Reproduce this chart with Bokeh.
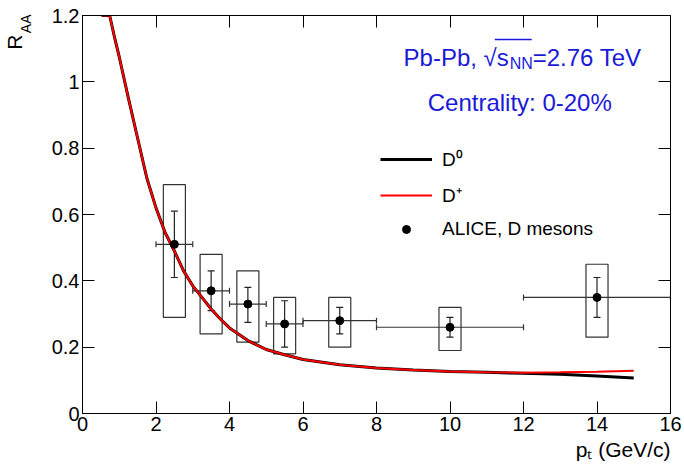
from bokeh.plotting import figure
from bokeh.models import (Range1d, LinearAxis, Label, Legend, LegendItem, Whisker,
                          TeeHead, ColumnDataSource, FixedTicker, Title,
                          CustomLabelingPolicy)
from bokeh.embed import file_html
from bokeh.resources import INLINE

# ---------------- data ----------------
curve_pt = [0.52, 0.74, 0.88, 1.0, 1.25, 1.5, 1.75, 2.0, 2.25, 2.5, 2.75, 3.0, 3.25, 3.5,
            3.75, 4.0, 4.5, 5.0, 5.5, 6.0, 7.0, 8.0, 9.0, 10.0, 11.0, 12.0, 13.0, 14.0, 15.0]
raa_d0 = [1.2, 1.2, 1.13, 1.075, 0.95, 0.83, 0.71, 0.62, 0.545, 0.49, 0.43, 0.385, 0.35, 0.315,
          0.285, 0.258, 0.22, 0.193, 0.177, 0.163, 0.147, 0.137, 0.131, 0.127, 0.124, 0.121,
          0.118, 0.113, 0.107]
raa_dplus = [1.2, 1.2, 1.13, 1.075, 0.95, 0.83, 0.71, 0.62, 0.545, 0.49, 0.43, 0.385, 0.35, 0.315,
             0.285, 0.258, 0.22, 0.193, 0.177, 0.163, 0.147, 0.137, 0.131, 0.127, 0.124, 0.123,
             0.124, 0.126, 0.129]

alice_pt = [2.5, 3.5, 4.5, 5.5, 7.0, 10.0, 14.0]
alice_pt_lo = [2.0, 3.0, 4.0, 5.0, 6.0, 8.0, 12.0]
alice_pt_hi = [3.0, 4.0, 5.0, 6.0, 8.0, 12.0, 16.0]
alice_raa = [0.51, 0.37, 0.33, 0.27, 0.28, 0.26, 0.35]
alice_stat_lo = [0.41, 0.31, 0.275, 0.20, 0.24, 0.23, 0.29]
alice_stat_hi = [0.61, 0.43, 0.38, 0.34, 0.32, 0.29, 0.41]
alice_sys_lo = [0.29, 0.24, 0.215, 0.18, 0.20, 0.19, 0.23]
alice_sys_hi = [0.69, 0.48, 0.43, 0.35, 0.35, 0.32, 0.45]

x_ticks = [0, 2, 4, 6, 8, 10, 12, 14, 16]
y_ticks = [0, 0.2, 0.4, 0.6, 0.8, 1.0, 1.2]
y_tick_labels = {0: "0", 0.2: "0.2", 0.4: "0.4", 0.6: "0.6", 0.8: "0.8", 1.0: "1", 1.2: "1.2"}

# ---------------- layout ----------------
W, H = 684, 469
FL, FR, FT, FB = 81, 670, 15, 413   # frame edges in figure pixels
XMIN, XMAX, YMIN, YMAX = 0, 16, 0, 1.2
FONT = "Liberation Sans"
BLUE = "#1a1ad8"

p = figure(width=W, height=H, output_backend="svg", toolbar_location=None,
           x_range=Range1d(XMIN, XMAX), y_range=Range1d(YMIN, YMAX),
           min_border_left=FL, min_border_right=W - FR, min_border_top=FT,
           min_border_bottom=H - FB, x_axis_location=None, y_axis_location=None)
p.grid.visible = False
p.outline_line_color = "black"
p.outline_line_width = 1
p.background_fill_color = "white"
p.border_fill_color = "white"


def px2x(px):
    return XMIN + (px - FL) * (XMAX - XMIN) / (FR - FL)


def py2y(py):
    return YMIN + (FB - py) * (YMAX - YMIN) / (FB - FT)


def make_axis(ticks, show_labels, overrides=None):
    ax = LinearAxis(ticker=FixedTicker(ticks=ticks, num_minor_ticks=4))
    ax.axis_line_color = "black"
    ax.major_tick_in = 12
    ax.major_tick_out = 0
    ax.minor_tick_in = 6
    ax.minor_tick_out = 0
    ax.major_tick_line_color = "black"
    ax.minor_tick_line_color = "black"
    ax.major_label_text_font = FONT
    ax.major_label_text_font_size = "20px"
    ax.major_label_text_color = "black"
    ax.major_label_standoff = 3
    if overrides:
        ax.major_label_overrides = overrides
    if not show_labels:
        ax.major_label_policy = CustomLabelingPolicy(code="return []")
        ax.major_label_text_font_size = "0px"
        ax.major_label_standoff = 0
    return ax


def title_axis(text, size, pos, standoff):
    """A tick-less axis whose single (rotated) tick label is the title text at pos."""
    ax = LinearAxis(ticker=FixedTicker(ticks=[pos], num_minor_ticks=0))
    ax.major_label_overrides = {pos: text}
    ax.axis_line_alpha = 0
    ax.major_tick_in = 0
    ax.major_tick_out = 0
    ax.minor_tick_in = 0
    ax.minor_tick_out = 0
    ax.major_label_orientation = "vertical"
    ax.major_label_text_font = FONT
    ax.major_label_text_font_size = size
    ax.major_label_text_color = "black"
    ax.major_label_standoff = standoff
    return ax


xb = make_axis(x_ticks, True)
yl = make_axis(y_ticks, True, y_tick_labels)
xt = make_axis(x_ticks, False)
yr = make_axis(y_ticks, False)
p.add_layout(xb, "below")
p.add_layout(yl, "left")
p.add_layout(xt, "above")
p.add_layout(yr, "right")

# y title R_AA: subscript (closer to the axis) and main letter
p.add_layout(title_axis("AA", "14px", 1.175, 14), "left")
p.add_layout(title_axis("R", "21px", 1.12, -11), "left")

# x title
xtitle = Title(text="pₜ (GeV/c)", align="right", text_font=FONT, text_font_size="21px",
               text_font_style="normal", text_color="black", standoff=5)
p.add_layout(xtitle, "below")

# ---------------- ALICE data ----------------
src = ColumnDataSource(dict(
    pt=alice_pt, lo=alice_pt_lo, hi=alice_pt_hi, raa=alice_raa,
    slo=alice_stat_lo, shi=alice_stat_hi, ylo=alice_sys_lo, yhi=alice_sys_hi))

BOXW = 0.6
p.quad(left=[x - BOXW / 2 for x in alice_pt], right=[x + BOXW / 2 for x in alice_pt],
       bottom=alice_sys_lo, top=alice_sys_hi, fill_alpha=0, line_color="#333333",
       line_width=1.2)

wy = Whisker(base="pt", lower="slo", upper="shi", source=src, dimension="height",
             line_color="#222222", line_width=1.2,
             upper_head=TeeHead(size=7, line_color="#222222", line_width=1.2),
             lower_head=TeeHead(size=7, line_color="#222222", line_width=1.2))
wx = Whisker(base="raa", lower="lo", upper="hi", source=src, dimension="width",
             line_color="#333333", line_width=1.2,
             upper_head=TeeHead(size=6, line_color="#333333", line_width=1.2),
             lower_head=TeeHead(size=6, line_color="#333333", line_width=1.2))
p.add_layout(wy)
p.add_layout(wx)

# ---------------- model curves ----------------
r_d0 = p.line(curve_pt, raa_d0, line_color="black", line_width=3)
r_dp = p.line(curve_pt, raa_dplus, line_color="#ff0000", line_width=2)

r_pts = p.scatter("pt", "raa", source=src, size=8, color="black")

legend = Legend(items=[LegendItem(label="D⁰", renderers=[r_d0]),
                       LegendItem(label="D⁺", renderers=[r_dp]),
                       LegendItem(label="ALICE, D mesons", renderers=[r_pts])],
                location=(379 - FL, FB - 240), orientation="vertical")
legend.label_text_font = FONT
legend.label_text_font_size = "19px"
legend.label_text_color = "black"
legend.glyph_width = 52
legend.glyph_height = 20
legend.label_height = 20
legend.label_standoff = 10
legend.spacing = 10
legend.padding = 0
legend.margin = 0
legend.border_line_alpha = 0
legend.background_fill_alpha = 0
p.add_layout(legend, "center")


# ---------------- texts (inside the frame) ----------------
def lbl(text, fx, fy, size, color="black", align="left"):
    lab = Label(x=px2x(fx), y=py2y(fy), text=text, text_font=FONT,
                text_font_size=size, text_color=color, text_align=align,
                text_baseline="alphabetic")
    p.add_layout(lab)
    return lab


lbl("Pb-Pb, √s", 508, 57, "24px", BLUE, "right")
lbl("NN", 509, 63, "16px", BLUE, "left")
lbl("=2.76 TeV", 532, 57, "24px", BLUE, "left")
p.segment(x0=[px2x(494)], y0=[py2y(39)], x1=[px2x(531)], y1=[py2y(39)],
          line_color=BLUE, line_width=1.3)
lbl("Centrality: 0-20%", 519, 102, "24px", BLUE, "center")

open("out.html", "w").write(file_html(p, INLINE))
